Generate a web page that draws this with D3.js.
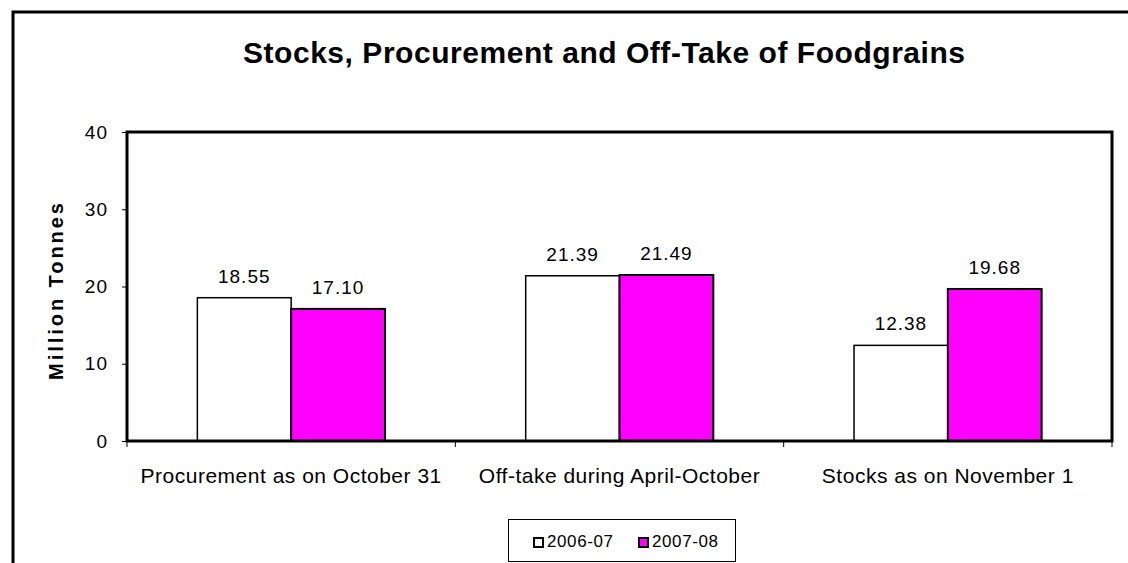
<!DOCTYPE html>
<html><head><meta charset="utf-8">
<script src="https://cdn.jsdelivr.net/npm/d3@7"></script>
<style>body{margin:0;background:#fff}svg{display:block;font-family:Arial,"Liberation Sans",sans-serif}</style>
</head><body><svg id="c" width="1128" height="563"></svg>
<script>
const categories = ["Procurement as on October 31","Off-take during April-October","Stocks as on November 1"];
const seriesNames = ["2006-07","2007-08"];
const values2006 = [18.55, 21.39, 12.38];
const values2007 = [17.10, 21.49, 19.68];
const seriesColors = ["#ffffff","#ff00ff"];
const yTicks = [0,10,20,30,40];
const title = "Stocks, Procurement and Off-Take of Foodgrains";
const yTitle = "Million Tonnes";

const FF = "Arial,'Liberation Sans',sans-serif";
const svg = d3.select("#c");
const L=127, R=1112, T=132, B=441;
// outer frame
svg.append("path").attr("d","M13,563 L13,12 L1128,12").attr("fill","none").attr("stroke","#000").attr("stroke-width",3);
svg.append("text").attr("x",604).attr("y",63).attr("text-anchor","middle").attr("font-size",30).attr("font-weight","bold")
   .attr("textLength",722).attr("lengthAdjust","spacing").text(title);
svg.append("text").attr("transform","translate(63,291.5) rotate(-90)").attr("text-anchor","middle")
   .attr("font-size",20).attr("font-weight","bold").attr("textLength",177).attr("lengthAdjust","spacing").text(yTitle);

const x = d3.scaleBand().domain(categories).range([L,R]).padding(0);
const xs = d3.scaleBand().domain(seriesNames).range([0,x.bandwidth()]).paddingOuter(0.75).paddingInner(0);
const y = d3.scaleLinear().domain([0,40]).range([B,T]);

// y axis ticks
const ya = svg.append("g").attr("transform",`translate(${L},0)`).call(d3.axisLeft(y).tickValues(yTicks).tickSize(5).tickPadding(14).tickFormat(d3.format("d")));
ya.select(".domain").remove();
ya.selectAll("line").attr("stroke","#000");
ya.selectAll("text").attr("font-size",19).attr("letter-spacing",1).attr("font-family",FF).attr("fill","#000");

const xa = svg.append("g").attr("transform",`translate(0,${B})`).call(d3.axisBottom(x).tickSize(0).tickPadding(27));
xa.select(".domain").remove();
xa.selectAll("text").attr("font-size",21).attr("letter-spacing",0.5).attr("font-family",FF).attr("fill","#000");
// category separators
const seps=[L, ...categories.map(c=>x(c)+x.bandwidth())];
svg.selectAll(".sep").data(seps).join("line").attr("x1",d=>d).attr("x2",d=>d).attr("y1",B).attr("y2",B+6).attr("stroke","#000");

const data = [values2006, values2007];
const g = svg.append("g");
seriesNames.forEach((s,i)=>{
  g.selectAll(".b"+i).data(categories).join("rect")
   .attr("x",c=>x(c)+xs(s)).attr("width",xs.bandwidth())
   .attr("y",(c,j)=>y(data[i][j])).attr("height",(c,j)=>B-y(data[i][j]))
   .attr("fill",seriesColors[i]).attr("stroke","#000").attr("stroke-width",i?2:1.5);
  g.selectAll(".l"+i).data(categories).join("text")
   .attr("x",c=>x(c)+xs(s)+xs.bandwidth()/2).attr("y",(c,j)=>y(data[i][j])-15)
   .attr("text-anchor","middle").attr("font-size",19).attr("letter-spacing",1).text((c,j)=>data[i][j].toFixed(2));
});
// plot frame
svg.append("rect").attr("x",L).attr("y",T).attr("width",R-L).attr("height",B-T).attr("fill","none").attr("stroke","#000").attr("stroke-width",3);

// legend
svg.append("rect").attr("x",508.5).attr("y",519.5).attr("width",227).attr("height",42).attr("fill","#fff").attr("stroke","#000");
const lx=[534,639];
seriesNames.forEach((s,i)=>{
  svg.append("rect").attr("x",lx[i]).attr("y",538).attr("width",9).attr("height",9).attr("fill",seriesColors[i]).attr("stroke","#000").attr("stroke-width",2);
  svg.append("text").attr("x",lx[i]+13).attr("y",547).attr("font-size",17).attr("letter-spacing",0.6).text(s);
});
</script></body></html>
